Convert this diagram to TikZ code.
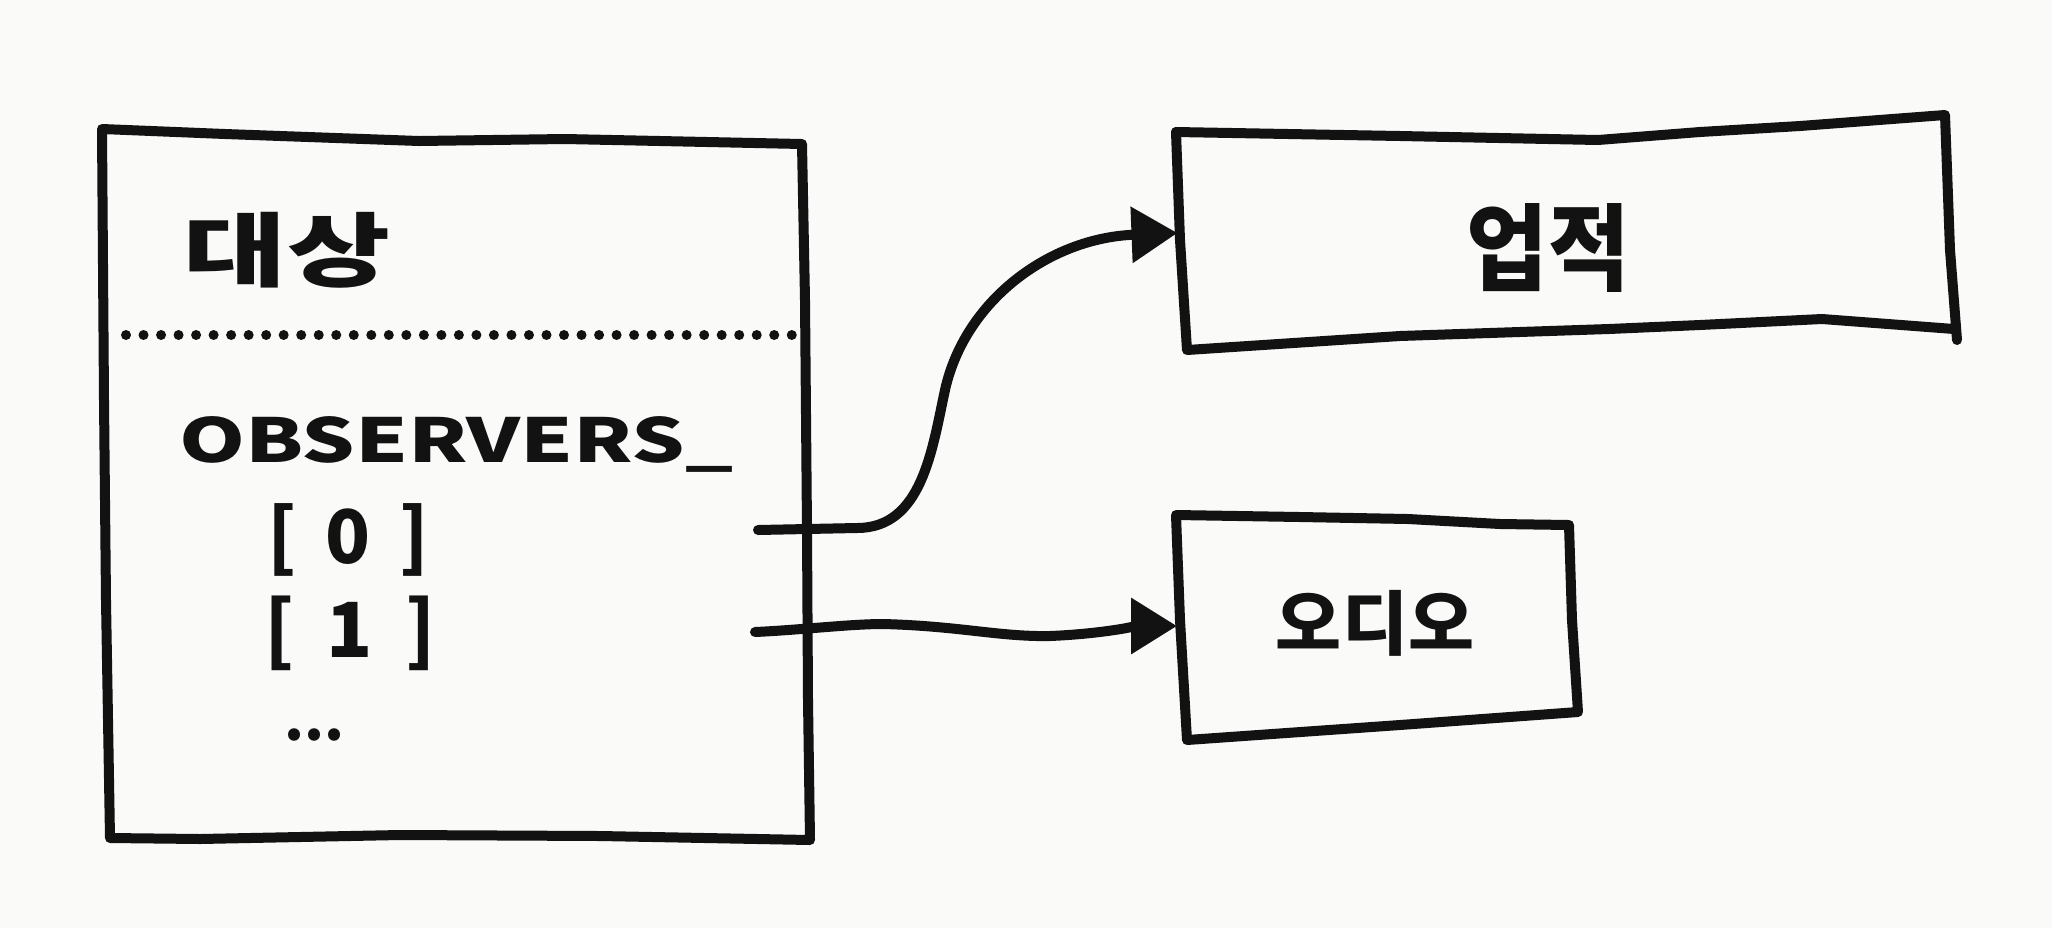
\documentclass[tikz,border=0pt]{standalone}
\usepackage{fontspec}
\usepackage{graphicx}
\usetikzlibrary{arrows.meta}
\newfontfamily\hand{Noto Sans CJK KR}
\definecolor{paper}{RGB}{250,250,249}
\definecolor{ink}{RGB}{18,18,18}
\tikzset{
  sketch/.style={draw=ink, line width=5pt, line join=round, line cap=round},
  conn/.style={draw=ink, line width=5pt, line join=round, line cap=round, -{Triangle[length=23pt,width=27pt]}},
  dotrow/.style={draw=ink, line width=5pt, line cap=round, dash pattern=on 0.01pt off 8.75pt},
  boxshape/.style={draw=none, inner sep=0pt, outer sep=0pt},
  label/.style={text=ink, inner sep=0pt, outer sep=0pt, font=\hand\bfseries}
}
\begin{document}
\begin{tikzpicture}[x=0.5pt, y=-0.5pt]
\useasboundingbox[fill=paper] (0,0) rectangle (2052,928);

% invisible box nodes (for anchoring)
\node[boxshape, minimum width=352pt, minimum height=352.5pt] (subject) at (456,485) {};
\node[boxshape, minimum width=388.5pt, minimum height=108.5pt] (achv) at (1566,237) {};
\node[boxshape, minimum width=199pt, minimum height=109pt] (audio) at (1376,626) {};

% hand-drawn outlines
\draw[sketch] (102,129) -- (225,134) -- (419,141) -- (565,139) -- (802,144)
  -- (805,300) -- (807,530) -- (808,700) -- (810,840)
  -- (600,836) -- (400,835) -- (200,839) -- (110,838)
  -- (106,600) -- (104,400) -- cycle;
\draw[sketch] (1176,132) -- (1400,136) -- (1598,140) -- (1700,132) -- (1800,126) -- (1945,115)
  -- (1950,250) -- (1957,340);
\draw[sketch] (1954,329) -- (1822,319) -- (1700,325) -- (1609,329) -- (1400,336) -- (1187,350)
  -- (1180,240) -- (1176,132);
\draw[sketch] (1176,515) -- (1300,517) -- (1408,519) -- (1500,524) -- (1569,525)
  -- (1572,620) -- (1578,712) -- (1400,725) -- (1187,740) -- (1180,620) -- cycle;

% dotted separator
\draw[dotrow] (126,335) -- (792,335);

% texts
\node[label] (title) at (287,250) {\resizebox*{103pt}{38pt}{대상}};
\node[label, anchor=west] (obs) at (179,444) {\resizebox{277pt}{23pt}{OBSERVERS\_}};
\node[label] (i0) at (348,540) {\fontsize{37}{37}\selectfont\makebox[81pt][s]{[\hfill0\hfill]}};
\node[label] (i1) at (350,633) {\fontsize{38}{38}\selectfont\makebox[86pt][s]{[\hfill1\hfill]}};
\node[label] (more) at (314,735) {\resizebox{30pt}{!}{...}};
\node[label] (achvtext) at (1548,248) {\resizebox*{81.5pt}{44.5pt}{업적}};
\node[label] (audiotext) at (1375,623) {\resizebox*{99pt}{33pt}{오디오}};

% connectors
\coordinate (o0) at (758,530);
\coordinate (o1) at (755,632);
\draw[conn] (o0) -- (857,528) .. controls (922,528) and (932,450) .. (945,390)
  .. controls (965,300) and (1050,238) .. (achv.west |- 0,233);
\draw[conn] (o1) .. controls (800,630) and (850,624) .. (883,624)
  .. controls (960,626) and (1000,637) .. (1050,636)
  .. controls (1100,634) and (1140,626) .. (audio.west);
\end{tikzpicture}
\end{document}
